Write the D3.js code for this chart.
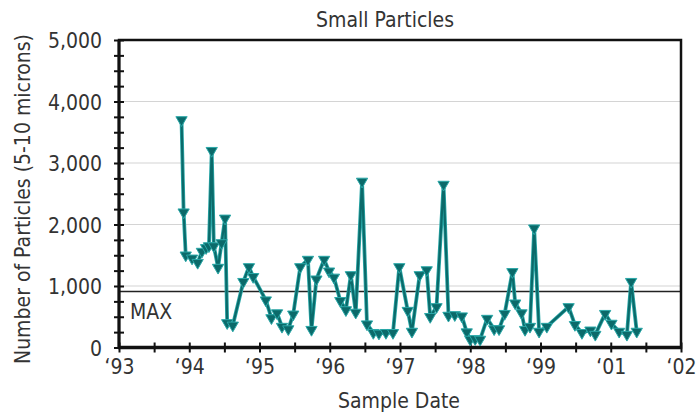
<!DOCTYPE html>
<html>
<head>
<meta charset="utf-8">
<script src="https://cdn.jsdelivr.net/npm/d3@7"></script>
<style>
html,body{margin:0;padding:0;background:#fff;}
svg{display:block;}
text{font-family:"Liberation Sans Narrow","Arial Narrow","DejaVu Sans Condensed",sans-serif;fill:#333;}
</style>
</head>
<body>
<svg id="chart" width="696" height="415"></svg>
<script>
// Sample dates (decimal years) and particle counts (5-10 microns)
const sampleDates = [
  1993.89, 1993.92, 1993.95, 1994.04, 1994.12, 1994.18, 1994.24, 1994.28, 1994.32, 1994.35,
  1994.41, 1994.46, 1994.51, 1994.54, 1994.62, 1994.77, 1994.85, 1994.91, 1995.09, 1995.17,
  1995.25, 1995.32, 1995.41, 1995.48, 1995.58, 1995.69, 1995.74, 1995.81, 1995.92, 1995.99,
  1996.06, 1996.15, 1996.23, 1996.30, 1996.37, 1996.46, 1996.53, 1996.62, 1996.70, 1996.80,
  1996.90, 1996.99, 1997.11, 1997.17, 1997.28, 1997.38, 1997.43, 1997.52, 1997.62, 1997.69,
  1997.78, 1997.88, 1997.95, 1998.00, 1998.07, 1998.14, 1998.24, 1998.34, 1998.41, 1998.49,
  1998.60, 1998.64, 1998.73, 1998.78, 1998.85, 1998.91, 1998.98, 1999.09, 1999.40, 1999.49,
  1999.59, 1999.71, 1999.78, 1999.92, 2000.01, 2000.12, 2000.23, 2000.29, 2000.37
];
const particleCounts = [
  3700, 2200, 1500, 1450, 1380, 1560, 1620, 1650, 3200, 1650,
  1300, 1700, 2100, 400, 360, 1070, 1310, 1150, 770, 480,
  560, 340, 300, 540, 1310, 1430, 290, 1110, 1430, 1240,
  1140, 760, 610, 1180, 570, 2700, 380, 240, 230, 240,
  240, 1310, 600, 260, 1180, 1260, 500, 660, 2650, 520,
  530, 510, 250, 130, 140, 130, 470, 300, 300, 550,
  1230, 720, 560, 290, 340, 1940, 260, 340, 660, 370,
  240, 280, 210, 550, 390, 260, 210, 1070, 260
];
const xTickValues = [1993, 1994, 1995, 1996, 1997, 1998, 1999, 2000, 2001];
const xTickLabels = ["\u201893", "\u201894", "\u201895", "\u201896", "\u201897", "\u201898", "\u201899", "\u201801", "\u201802"];
const yTickValues = [0, 1000, 2000, 3000, 4000, 5000];
const maxLimit = 910;
const chartTitle = "Small Particles";
const xTitle = "Sample Date";
const yTitle = "Number of Particles (5-10 microns)";

const svg = d3.select("#chart");
const L = 119, R = 681, T = 40, B = 347.5;
const x = d3.scaleLinear().domain([1993, 2001]).range([L, R]);
const y = d3.scaleLinear().domain([0, 5000]).range([B, T]);
const teal = "#0b6a6a";
const tealLight = "#2aa8a8";

// gridlines
svg.append("g").selectAll("line").data(yTickValues.filter(v => v > 0 && v < 5000)).join("line")
  .attr("x1", L).attr("x2", R).attr("y1", d => y(d)).attr("y2", d => y(d))
  .attr("stroke", "#d4d4d4").attr("stroke-width", 1.2);

// MAX line
svg.append("line").attr("x1", L).attr("x2", R).attr("y1", y(maxLimit)).attr("y2", y(maxLimit))
  .attr("stroke", "#222").attr("stroke-width", 1.6);
svg.append("text").attr("x", L + 11).attr("y", y(maxLimit) + 27)
  .attr("font-size", 21).text("MAX");

// frame
svg.append("rect").attr("x", L).attr("y", T).attr("width", R - L).attr("height", B - T)
  .attr("fill", "none").attr("stroke", "#111").attr("stroke-width", 2.5);

// y axis ticks
const yAxis = d3.axisLeft(y).tickValues(d3.range(0, 5001, 250)).tickSize(10)
  .tickFormat(d => yTickValues.includes(d) ? d3.format(",")(d) : "");
const gy = svg.append("g").attr("transform", `translate(${L + 5},0)`).call(yAxis);
gy.select(".domain").remove();
gy.selectAll(".tick line").attr("stroke", "#111").attr("stroke-width", 2);
gy.selectAll(".tick text").attr("x", -22).attr("dy", "0.36em").attr("font-size", 21)
  .attr("font-family", null).attr("fill", "#333");
svg.append("line").attr("x1", L).attr("x2", L).attr("y1", T).attr("y2", B + 1)
  .attr("stroke", "#111").attr("stroke-width", 3);

// x axis ticks
const xAxis = d3.axisBottom(x).tickValues(d3.range(1993, 2001.01, 0.5)).tickSize(10)
  .tickFormat(d => { const i = xTickValues.indexOf(d); return i >= 0 ? xTickLabels[i] : ""; });
const gx = svg.append("g").attr("transform", `translate(0,${B - 5})`).call(xAxis);
gx.select(".domain").remove();
gx.selectAll(".tick line").attr("stroke", "#111").attr("stroke-width", 2);
gx.selectAll(".tick text").attr("y", 17).attr("dy", "0.71em").attr("font-size", 21)
  .attr("font-family", null).attr("fill", "#333");
svg.append("line").attr("x1", L - 1).attr("x2", R + 1).attr("y1", B).attr("y2", B)
  .attr("stroke", "#111").attr("stroke-width", 3.5);

// data line
const pts = sampleDates.map((d, i) => [d, particleCounts[i]]);
const lineGen = d3.line().x(d => x(d[0])).y(d => y(d[1]));
svg.append("path").datum(pts).attr("d", lineGen)
  .attr("fill", "none").attr("stroke", tealLight).attr("stroke-width", 3.8).attr("stroke-linejoin", "round");
svg.append("path").datum(pts).attr("d", lineGen)
  .attr("fill", "none").attr("stroke", teal).attr("stroke-width", 2.2).attr("stroke-linejoin", "round");

// markers (downward triangles)
svg.append("g").selectAll("path").data(pts).join("path")
  .attr("transform", d => `translate(${x(d[0])},${y(d[1])}) rotate(180)`)
  .attr("d", d3.symbol(d3.symbolTriangle, 55))
  .attr("fill", teal).attr("stroke", tealLight).attr("stroke-width", 1);

// titles
svg.append("text").attr("x", 385).attr("y", 27).attr("text-anchor", "middle")
  .attr("font-size", 21).text(chartTitle);
svg.append("text").attr("x", 399).attr("y", 408).attr("text-anchor", "middle")
  .attr("font-size", 21).text(xTitle);
svg.append("text").attr("transform", "translate(30,199) rotate(-90)").attr("text-anchor", "middle")
  .attr("font-size", 21).text(yTitle);
</script>
</body>
</html>
